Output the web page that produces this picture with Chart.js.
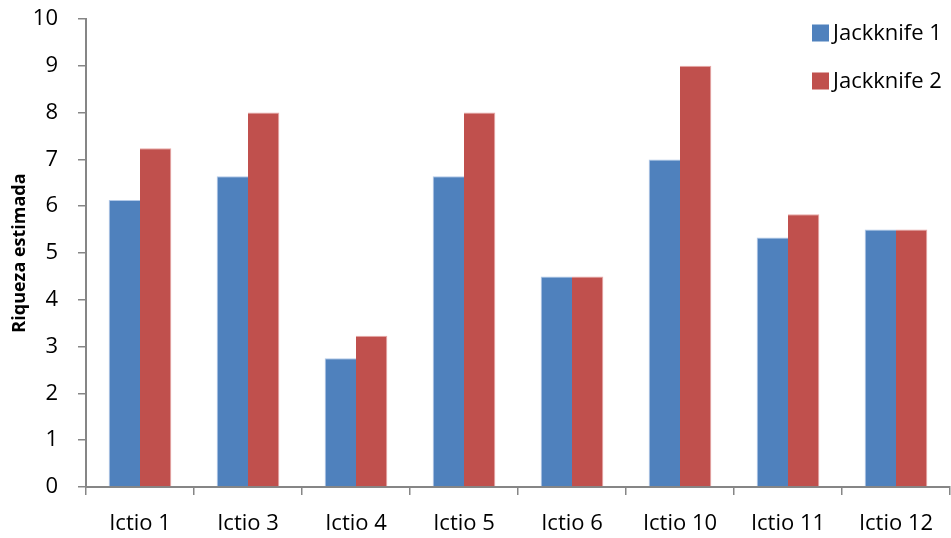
<!DOCTYPE html>
<html>
<head>
<meta charset="utf-8">
<script src="https://cdn.jsdelivr.net/npm/chart.js@4/dist/chart.umd.min.js"></script>
<style>
  html, body { margin: 0; padding: 0; background: #fff; }
  #wrap { width: 951px; height: 538px; }
</style>
</head>
<body>
<div id="wrap"><canvas id="chart" width="951" height="538"></canvas></div>
<script>
// Estimated species richness per sampling station
const categories = ['Ictio 1', 'Ictio 3', 'Ictio 4', 'Ictio 5', 'Ictio 6', 'Ictio 10', 'Ictio 11', 'Ictio 12'];
const jackknife1 = [6.13, 6.64, 2.75, 6.64, 4.5, 7, 5.33, 5.5];
const jackknife2 = [7.24, 8, 3.23, 8, 4.5, 9, 5.83, 5.5];
const seriesNames = ['Jackknife 1', 'Jackknife 2'];
const yMin = 0, yMax = 10, yStep = 1;

const FONT = '"Open Sans", "Liberation Sans", sans-serif';
const AXIS_GREY = '#868686';

// Legend drawn inside the plot area, top-right, stacked vertically
const insideLegend = {
  id: 'insideLegend',
  afterDraw(chart) {
    const ctx = chart.ctx;
    const x0 = 812, box = 17, gap = 4;
    const rows = [33, 81];
    ctx.save();
    ctx.font = '22px ' + FONT;
    ctx.textBaseline = 'middle';
    ctx.textAlign = 'left';
    chart.data.datasets.forEach((ds, i) => {
      const cy = rows[i];
      ctx.fillStyle = ds.backgroundColor;
      ctx.fillRect(x0, cy - box / 2, box, box);
      ctx.fillStyle = '#000';
      ctx.fillText(ds.label, x0 + box + gap, cy + 1);
    });
    ctx.restore();
  }
};

new Chart(document.getElementById('chart'), {
  type: 'bar',
  data: {
    labels: categories,
    datasets: [
      { label: seriesNames[0], data: jackknife1, backgroundColor: '#4F81BD',
        borderColor: 'rgba(170,195,230,0.9)', borderWidth: { top: 1, left: 1, right: 0, bottom: 0 } },
      { label: seriesNames[1], data: jackknife2, backgroundColor: '#C0504D',
        borderColor: 'rgba(230,160,158,0.9)', borderWidth: { top: 1, left: 0, right: 1, bottom: 0 } }
    ]
  },
  options: {
    responsive: false,
    devicePixelRatio: 1,
    animation: false,
    layout: { padding: { top: 19, right: 1, left: 0, bottom: 0 } },
    datasets: { bar: { categoryPercentage: 0.58, barPercentage: 1.0 } },
    plugins: {
      legend: { display: false },
      tooltip: { enabled: false }
    },
    scales: {
      x: {
        grid: { display: true, drawOnChartArea: false, drawTicks: true, tickLength: 8,
                color: AXIS_GREY, lineWidth: 1.5, offset: true },
        border: { display: true, color: AXIS_GREY, width: 2 },
        ticks: { color: '#000', font: { family: FONT, size: 22 }, padding: 16, maxRotation: 0 },
        afterFit: s => { s.height = 51; }
      },
      y: {
        min: yMin, max: yMax,
        grid: { display: true, drawOnChartArea: false, drawTicks: true, tickLength: 8,
                color: AXIS_GREY, lineWidth: 1.5 },
        border: { display: true, color: AXIS_GREY, width: 2 },
        ticks: { stepSize: yStep, color: '#000', font: { family: FONT, size: 22 }, padding: 20 },
        title: { display: true, text: 'Riqueza estimada', color: '#000',
                 font: { family: FONT, size: 18, weight: 'bold' }, padding: { top: 9, bottom: 0 } },
        afterFit: s => {
          s.width = 86;
          // plot area edges come from the layout padding, not the label gap
          s.paddingTop = 0;
          s.paddingBottom = 0;
        }
      }
    }
  },
  plugins: [insideLegend]
});
</script>
</body>
</html>
